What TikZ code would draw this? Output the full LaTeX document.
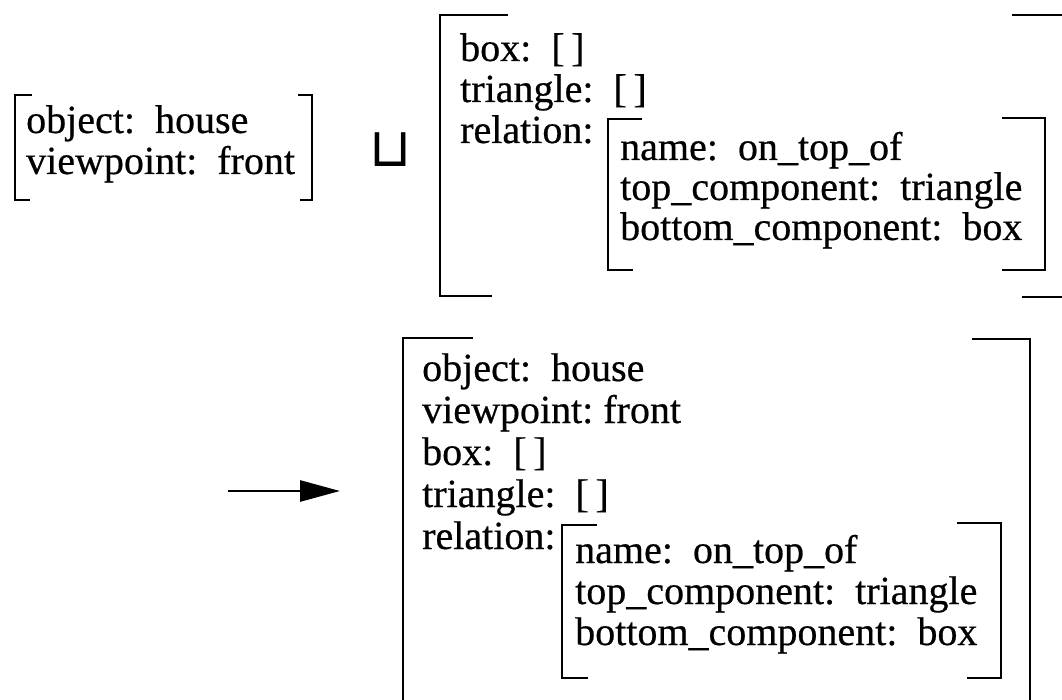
\documentclass[tikz,border=0pt]{standalone}
\usepackage{fontspec}
\setmainfont{Liberation Serif}[FakeBold=0.5]
\newfontfamily\unifyfamily{DejaVu Sans}
\usetikzlibrary{arrows.meta}
\newcommand{\fsfont}{\fontsize{40}{48}\selectfont\frenchspacing}
\newcommand{\unifyfont}{\unifyfamily\fontsize{54}{54}\selectfont}

\begin{document}
\begin{tikzpicture}[x=1pt,y=-1pt,
    feat/.style={anchor=base west,inner sep=0pt,font=\fsfont},
    brak/.style={line width=2.8pt}]
  \useasboundingbox (0,0) rectangle (1062,700);

  \draw[brak] (32,95) -- (15,95) -- (15,200) -- (30,200);
  \draw[brak] (298,95) -- (312,95) -- (312,200) -- (300,200);
  \node[feat] (objA) at (26,133) {object:\ \ house};
  \node[feat] (viewA) at (26,174) {viewpoint:\ \ front};

  \node[anchor=base,inner sep=0pt,font=\unifyfont] (unify) at (391,167) {⊔};

  \draw[brak] (508,15) -- (440,15) -- (440,296) -- (492,296);
  \draw[brak] (1012,15) -- (1062,15);
  \draw[brak] (1022,297) -- (1062,297);
  \node[feat] (boxB) at (460,61) {box:\ \ [\,]};
  \node[feat] (triB) at (460,102) {triangle:\ \ [\,]};
  \node[feat] (relB) at (460,143) {relation:};
  \draw[brak] (642,119) -- (608,119) -- (608,270) -- (633,270);
  \draw[brak] (1002,118) -- (1045,118) -- (1045,270) -- (1002,270);
  \node[feat] (nameB) at (620,160) {name:\ \ on\_top\_of};
  \node[feat] (topB) at (620,200) {top\_component:\ \ triangle};
  \node[feat] (botB) at (620,240) {bottom\_component:\ \ box};

  \coordinate (arrS) at (228,491);
  \coordinate (arrE) at (340,491);
  \draw[line width=2.8pt,-{Triangle[length=40pt,width=21pt]}] (arrS) -- (arrE);

  \draw[brak] (473,338) -- (403,338) -- (403,702);
  \draw[brak] (972,339) -- (1030,339) -- (1030,702);
  \node[feat] (objC) at (422,381) {object:\ \ house};
  \node[feat] (viewC) at (422,423) {viewpoint:\ front};
  \node[feat] (boxC) at (422,465) {box:\ \ [\,]};
  \node[feat] (triC) at (422,507) {triangle:\ \ [\,]};
  \node[feat] (relC) at (422,549) {relation:};
  \draw[brak] (597,525) -- (562,525) -- (562,678) -- (588,678);
  \draw[brak] (957,523) -- (1001,523) -- (1001,678) -- (967,678);
  \node[feat] (nameC) at (575,563) {name:\ \ on\_top\_of};
  \node[feat] (topC) at (575,604) {top\_component:\ \ triangle};
  \node[feat] (botC) at (575,645) {bottom\_component:\ \ box};
\end{tikzpicture}
\end{document}
